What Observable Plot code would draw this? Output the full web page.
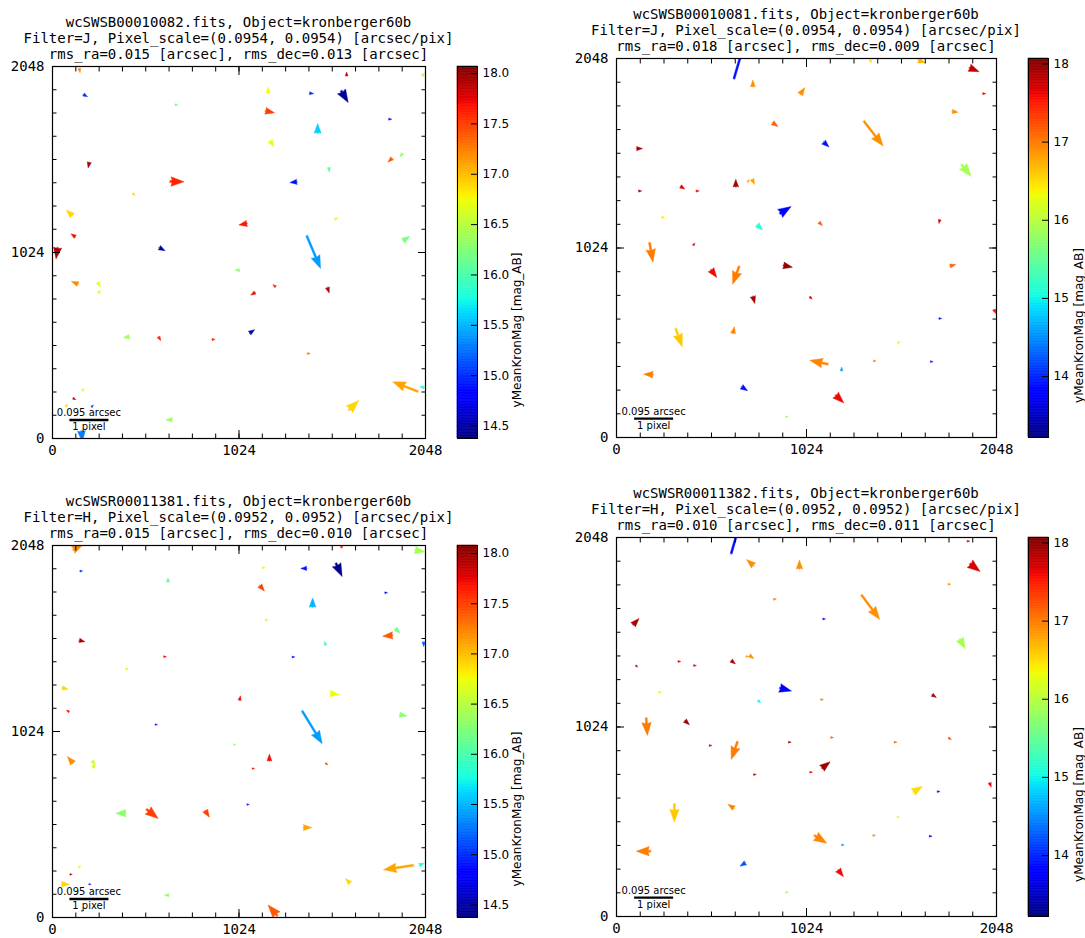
<!DOCTYPE html>
<html><head><meta charset="utf-8">
<script src="https://cdn.jsdelivr.net/npm/d3@7"></script>
<script src="https://cdn.jsdelivr.net/npm/@observablehq/plot@0.6"></script>
<style>
body{margin:0;background:#fff;}
#root{position:relative;width:1085px;height:938px;overflow:hidden;background:#fff;}
.tline{position:absolute;font-family:"DejaVu Sans Mono",monospace;font-size:14px;line-height:16px;white-space:pre;color:#000;transform:translateX(-50%);}
</style></head><body><div id="root"></div>
<script>
// ---------------- DATA ----------------
const fileNames = ["wcSWSB00010082.fits", "wcSWSB00010081.fits", "wcSWSR00011381.fits", "wcSWSR00011382.fits"];
const objectName = "kronberger60b";
const filters = ["J", "J", "H", "H"];
const pixelScales = ["0.0954", "0.0954", "0.0952", "0.0952"];
const rmsRa = ["0.015", "0.018", "0.015", "0.010"];
const rmsDec = ["0.013", "0.009", "0.010", "0.011"];
const axisTicks = [0, 1024, 2048];
const colorbarLabel = "yMeanKronMag [mag_AB]";
const cbarTicksA = [14.5, 15.0, 15.5, 16.0, 16.5, 17.0, 17.5, 18.0];
const cbarTicksB = [14, 15, 16, 17, 18];
const magRange1 = [14.376, 18.07];
const magRange2 = [13.22, 18.07];
const magRange3 = [14.374, 18.08];
const magRange4 = [13.22, 18.07];
const keyLabelTop = "0.095 arcsec";
const keyLabelBottom = "1 pixel";
const keyValue = 1; // pixel

// Panel 1 arrows: x, y [pix], dx, dy [pix displacement], mag
const p1x = [147,170,673,1184,1169,1411,1615,1585,1456,1846,1195,202,645,441,1342,1518,1865,1921,110,1068,1551,125,28,586,1925,1396,140,248,252,1027,1225,1112,1509,422,582,876,1082,1399,2006,2040,1626,163,113,72,214,658,159,2029];
const p1y = [2037,1894,1837,1901,1804,1901,1996,1914,1681,1758,1639,1521,1415,1349,1413,1492,1543,1569,1226,1184,1206,1110,1051,1051,1088,1116,850,859,800,927,835,804,831,560,560,545,580,468,259,281,156,262,222,176,174,103,42,1997];
const p1dx = [0.02,0.105,0.08,0.0,0.235,0.11,0.0,0.18,0.0,0.08,0.095,-0.03,0.36,0.06,-0.18,0.01,-0.11,-0.06,-0.16,-0.21,0.07,-0.11,-0.04,0.15,0.17,0.354,-0.17,0.07,0.05,-0.12,-0.07,-0.11,0.05,-0.16,0.06,0.08,0.13,0.08,-0.646,-0.11,0.26,0.05,0.07,0.05,0.05,-0.17,0.02,0.07];
const p1dy = [-0.11,-0.06,0.0,0.16,-0.05,-0.01,0.1,-0.3,0.25,0.0,-0.155,-0.145,-0.01,-0.05,-0.02,-0.12,-0.1,-0.09,0.15,-0.04,0.04,0.08,-0.29,-0.08,0.12,-0.838,0.07,-0.11,0.09,0.0,0.06,-0.07,-0.14,-0.02,-0.1,0.0,0.09,0.0,0.248,0.02,0.25,0.06,-0.04,0.06,0.05,0.0,-0.28,0.07];
const p1mag = [17.2,15.0,16.2,16.75,17.5,15.0,17.9,14.45,15.6,14.9,16.7,17.95,17.6,16.9,14.9,16.1,17.4,16.3,16.9,17.65,16.8,17.7,17.9,14.5,16.2,15.4,17.2,16.7,16.7,16.3,17.6,17.7,17.9,16.4,17.6,17.6,14.5,17.2,17.1,15.8,16.9,16.8,17.9,16.9,15.0,16.4,15.3,16.5];

// Panel 2 arrows
const p2x = [633,735,990,841,1902,1974,1809,1333,1116,108,1859,119,345,429,643,730,707,880,245,758,1092,1742,414,178,509,661,899,1798,735,1042,2035,1738,319,628,1515,1385,1692,1140,1213,197,674,1181,912,266,1367,1627];
const p2y = [1939,1895,1854,1701,1998,1858,1762,1710,1597,1561,1476,1332,1357,1332,1354,1395,1381,1210,1192,1150,1163,1177,1039,1053,907,925,930,927,763,760,691,643,589,562,511,414,410,396,360,340,274,229,112,52,2040,2038];
const p2dx = [0.265,0.0,0.12,0.14,0.25,0.08,0.155,0.496,0.14,0.155,0.25,0.08,0.11,0.08,0.0,0.07,0.04,0.29,0.07,0.14,0.085,-0.02,0.04,0.09,0.15,-0.168,0.235,0.145,0.05,0.06,0.04,0.07,0.168,0.035,0.07,0.07,0.07,-0.47,0.0,-0.24,0.155,0.21,0.07,0.08,0.03,0.18];
const p2dy = [0.9,0.175,0.175,-0.1,-0.1,0.0,-0.02,-0.64,-0.13,0.0,-0.31,0.0,-0.07,0.0,0.2,-0.13,0.06,0.18,-0.04,-0.14,-0.09,-0.1,0.06,-0.5,-0.2,-0.46,-0.05,0.035,-0.185,-0.06,-0.1,0.0,-0.47,0.175,0.03,0.0,0.0,0.1,0.1,0.01,-0.1,-0.2,0.0,0.0,-0.08,-0.06];
const p2mag = [13.9,16.9,16.9,17.15,17.8,17.6,16.9,16.9,13.9,17.9,15.9,17.9,17.7,17.6,17.9,16.8,16.8,13.8,16.4,15.1,17.15,17.7,17.7,17.0,17.6,17.0,18.0,17.15,17.9,17.7,17.6,13.9,16.6,16.95,16.3,16.95,13.9,16.95,14.6,17.0,13.9,17.6,15.9,16.6,16.5,16.7];

// Panel 3 arrows
const p3x = [113,151,634,1153,1396,1556,1585,1990,1138,1825,1428,1169,1883,1868,2038,147,1500,611,1316,403,53,1524,1027,91,1906,564,1371,995,1191,113,219,223,1097,1500,403,516,838,1068,1377,1982,2014,1634,1235,144,96,49,200,639,159];
const p3y = [2024,1907,1847,1925,1922,1950,2036,2023,1828,1788,1708,1638,1590,1553,1517,1526,1500,1436,1434,1366,1264,1234,1196,1133,1117,1062,1137,952,862,849,862,825,820,849,574,596,589,622,495,288,288,189,9,275,237,183,183,123,37];
const p3dx = [0.24,0.07,0.0,0.07,-0.155,0.16,0.04,0.26,0.12,0.07,0.0,0.07,0.12,-0.26,0.0,0.145,-0.035,0.07,0.07,0.06,0.155,0.23,0.025,-0.07,0.19,0.06,0.513,0.06,0.0,-0.145,0.07,0.05,0.06,0.05,-0.26,0.3,0.11,0.06,0.22,-0.77,0.13,-0.12,-0.24,0.05,0.06,0.21,0.06,-0.12,0.06];
const p3dy = [0.12,0.0,0.115,0.0,0.0,-0.34,0.06,-0.05,-0.145,0.0,0.24,0.0,-0.12,-0.02,-0.12,-0.035,0.1,0.0,0.0,0.04,-0.035,-0.035,0.115,0.035,-0.035,0.0,-0.838,0.0,0.175,0.175,-0.11,0.11,0.0,-0.04,0.0,-0.24,-0.175,0.0,0.0,-0.12,0.05,0.12,0.28,0.05,0.0,0.0,0.0,0.0,0.0];
const p3mag = [17.2,15.0,16.1,16.8,14.9,14.4,17.7,16.4,17.5,14.9,15.5,16.8,16.2,17.4,15.2,17.95,16.0,17.7,14.9,16.8,16.9,16.75,17.7,17.7,16.3,14.9,15.4,16.3,17.7,17.2,16.6,16.6,17.7,17.6,16.3,17.5,17.5,14.9,17.1,17.1,15.8,16.9,17.4,16.8,17.9,16.9,15.0,16.3,15.3];

// Panel 4 arrows
const p4x = [618,739,986,1890,1905,1788,847,1320,1112,89,1850,104,332,416,618,698,717,880,228,763,1101,1701,368,160,500,652,927,1155,1497,1790,1107,1042,739,1599,1729,2011,633,312,1512,1382,1686,1066,1213,184,695,1194,912,258];
const p4y = [1961,1896,1878,2028,1906,1796,1713,1738,1608,1576,1499,1356,1378,1356,1383,1405,1411,1235,1212,1167,1172,1198,1059,1073,924,945,942,967,942,965,801,780,767,672,675,722,585,609,537,438,434,438,387,353,290,252,131,68];
const p4dx = [0.26,-0.18,0.0,0.07,0.26,0.07,0.07,0.47,0.07,0.155,0.14,0.05,0.07,0.07,0.11,0.07,0.11,0.3,0.07,0.07,0.07,0.11,0.12,0.03,0.07,-0.16,0.07,0.07,0.07,0.07,0.21,0.07,0.07,0.24,0.07,0.04,-0.155,0.0,0.07,0.07,0.07,0.32,0.07,-0.37,-0.14,0.14,0.07,0.12];
const p4dy = [0.9,0.155,0.23,0.0,-0.2,0.0,0.02,-0.63,0.0,0.165,-0.25,-0.04,0.0,0.0,-0.085,0.0,-0.085,-0.08,0.0,-0.06,0.0,-0.07,-0.11,-0.45,0.0,-0.46,0.0,0.0,0.0,-0.04,0.165,0.0,0.0,0.15,0.0,-0.11,0.1,-0.47,0.0,0.0,0.0,-0.2,0.0,0.0,-0.085,-0.175,0.0,0.0];
const p4mag = [13.9,16.9,16.9,17.7,17.7,16.9,17.0,16.9,13.9,17.9,15.9,17.9,17.7,17.7,17.9,16.8,16.9,13.8,16.4,15.0,17.0,17.9,17.95,17.0,17.7,17.0,17.9,17.15,17.15,17.3,17.95,17.6,17.8,16.5,13.9,17.6,16.95,16.6,16.2,16.95,13.6,16.95,14.6,17.0,14.2,17.6,15.9,16.4];

// ---------------- STYLE / LAYOUT ----------------
const KEY_PX = 39;               // screen px for 1 pixel of displacement
const KEY_POS = [200, 102];      // key anchor in pixel coordinates
const ML = 50, MR = 12, MT = 12, MB = 30;
const JET = [[0,"#000080"],[0.11,"#0000ff"],[0.125,"#0000ff"],[0.34,"#00dbff"],[0.35,"#00e5f7"],[0.375,"#15ffe2"],[0.64,"#eeff08"],[0.65,"#f7f500"],[0.66,"#ffec00"],[0.89,"#ff1300"],[0.91,"#e80000"],[1,"#800000"]];
const layouts = [
  {left: 52,  top: 66,    w: 373, h: 372, cbLeft: 457,  labelDx: 40},
  {left: 616, top: 58,    w: 380, h: 379, cbLeft: 1028, labelDx: 31},
  {left: 52,  top: 544.5, w: 373, h: 372, cbLeft: 457,  labelDx: 40},
  {left: 616, top: 537,   w: 380, h: 379, cbLeft: 1028, labelDx: 31}
];
const panelData = [
  {x: p1x, y: p1y, dx: p1dx, dy: p1dy, mag: p1mag, range: magRange1, cticks: cbarTicksA, cfmt: d3.format(".1f")},
  {x: p2x, y: p2y, dx: p2dx, dy: p2dy, mag: p2mag, range: magRange2, cticks: cbarTicksB, cfmt: d3.format("d")},
  {x: p3x, y: p3y, dx: p3dx, dy: p3dy, mag: p3mag, range: magRange3, cticks: cbarTicksA, cfmt: d3.format(".1f")},
  {x: p4x, y: p4y, dx: p4dx, dy: p4dy, mag: p4mag, range: magRange4, cticks: cbarTicksB, cfmt: d3.format("d")}
];

function colorOpt([lo, hi]) {
  return {type: "linear", domain: JET.map(([t]) => lo + (hi - lo) * t), range: JET.map(([, c]) => c), interpolate: "rgb", clamp: true};
}

const quiverShape = {
  draw(ctx, l) {
    const W = 2, HW = 9.5, HL = 13, HAL = 12;
    let L = l, s = 1;
    if (l < HL) { s = l / HL; L = HL; }
    const pts = [[W/2,0],[W/2,L-HAL],[HW/2,L-HL],[0,L],[-HW/2,L-HL],[-W/2,L-HAL],[-W/2,0]];
    pts.forEach(([a, b], i) => i ? ctx.lineTo(a * s, -b * s) : ctx.moveTo(a * s, -b * s));
    ctx.closePath();
  }
};
const barShape = { draw(ctx, l) { ctx.moveTo(0, 0); ctx.lineTo(0, -l); } };

const minorTicks = d3.range(0, 2049, 128);
const root = document.getElementById("root");

function place(el, left, top) {
  el.style.position = "absolute";
  el.style.left = left + "px";
  el.style.top = top + "px";
  root.appendChild(el);
}

function axisSet() {
  const blank = () => "";
  const fmt = d => String(d);
  return [
    Plot.axisX({anchor: "bottom", ticks: minorTicks, tickSize: -4.5, tickFormat: blank, label: null}),
    Plot.axisX({anchor: "bottom", ticks: axisTicks, tickSize: -8, tickPadding: 15, tickFormat: fmt, label: null}),
    Plot.axisX({anchor: "top", ticks: minorTicks, tickSize: -4.5, tickFormat: blank, label: null}),
    Plot.axisX({anchor: "top", ticks: axisTicks, tickSize: -8, tickFormat: blank, label: null}),
    Plot.axisY({anchor: "left", ticks: minorTicks, tickSize: -4.5, tickFormat: blank, label: null}),
    Plot.axisY({anchor: "left", ticks: axisTicks, tickSize: -8, tickPadding: 16, tickFormat: fmt, label: null}),
    Plot.axisY({anchor: "right", ticks: minorTicks, tickSize: -4.5, tickFormat: blank, label: null}),
    Plot.axisY({anchor: "right", ticks: axisTicks, tickSize: -8, tickFormat: blank, label: null})
  ];
}

panelData.forEach((pd, k) => {
  const lay = layouts[k];
  const idx = d3.range(pd.x.length);
  const main = Plot.plot({
    width: ML + lay.w + MR, height: MT + lay.h + MB,
    marginLeft: ML, marginRight: MR, marginTop: MT, marginBottom: MB,
    style: {fontFamily: "DejaVu Sans Mono", fontSize: "14px", background: "transparent", overflow: "visible", color: "black"},
    x: {domain: [0, 2048]},
    y: {domain: [0, 2048]},
    color: colorOpt(pd.range),
    length: {type: "linear", domain: [0, 1], range: [0, KEY_PX]},
    marks: [
      Plot.vector(idx, {
        x: i => pd.x[i], y: i => pd.y[i],
        length: i => Math.hypot(pd.dx[i], pd.dy[i]),
        rotate: i => Math.atan2(pd.dx[i], pd.dy[i]) * 180 / Math.PI,
        fill: i => pd.mag[i], stroke: i => pd.mag[i], strokeWidth: 0.4, anchor: "start", shape: quiverShape, clip: true
      }),
      Plot.frame({stroke: "black", strokeWidth: 1.2}),
      ...axisSet(),
      Plot.vector([keyValue], {x: KEY_POS[0], y: KEY_POS[1], length: d => d, rotate: 90, anchor: "middle", shape: barShape, stroke: "black", strokeWidth: 2.4, strokeLinecap: "butt"}),
      Plot.text([keyLabelTop], {x: KEY_POS[0], y: KEY_POS[1], text: d => d, dy: -7, fontFamily: "DejaVu Sans", fontSize: 10}),
      Plot.text([keyLabelBottom], {x: KEY_POS[0], y: KEY_POS[1], text: d => d, dy: 7, fontFamily: "DejaVu Sans", fontSize: 10})
    ]
  });
  place(main, lay.left - ML, lay.top - MT);

  // colorbar
  const [lo, hi] = pd.range;
  const N = 240;
  const slices = d3.range(N).map(i => ({a: lo + (hi - lo) * i / N, b: lo + (hi - lo) * (i + 1) / N}));
  const cb = Plot.plot({
    width: 20 + 70, height: MT + lay.h + MB,
    marginLeft: 0, marginRight: 70, marginTop: MT, marginBottom: MB,
    style: {fontFamily: "DejaVu Sans", fontSize: "12px", background: "transparent", overflow: "visible", color: "black"},
    x: {domain: [0, 1], axis: null},
    y: {domain: [lo, hi], axis: null},
    color: colorOpt(pd.range),
    marks: [
      Plot.rect(slices, {x1: 0, x2: 1, y1: "a", y2: "b", fill: d => (d.a + d.b) / 2, stroke: d => (d.a + d.b) / 2, strokeWidth: 0.6}),
      Plot.frame({stroke: "black", strokeWidth: 1}),
      Plot.axisY({anchor: "right", ticks: pd.cticks, tickSize: -7, tickPadding: 12, tickFormat: pd.cfmt, label: null}),
      Plot.text([colorbarLabel], {frameAnchor: "right", dx: lay.labelDx, rotate: -90, text: d => d, fontSize: 12})
    ]
  });
  place(cb, lay.cbLeft, lay.top - MT);

  // title: three separate lines
  const lines = [
    `${fileNames[k]}, Object=${objectName}`,
    `Filter=${filters[k]}, Pixel_scale=(${pixelScales[k]}, ${pixelScales[k]}) [arcsec/pix]`,
    `rms_ra=${rmsRa[k]} [arcsec], rms_dec=${rmsDec[k]} [arcsec]`
  ];
  lines.forEach((s, j) => {
    const t = document.createElement("div");
    t.className = "tline";
    t.textContent = s;
    place(t, lay.left + lay.w / 2, lay.top - 52 + j * 16);
  });
});
</script></body></html>
